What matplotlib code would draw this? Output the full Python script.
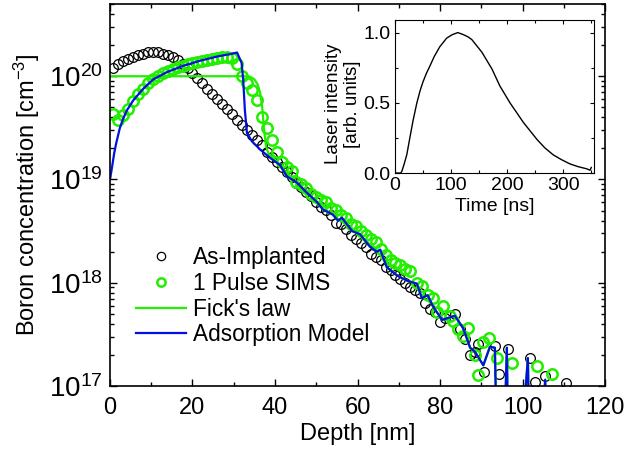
import numpy as np
import matplotlib
matplotlib.use("Agg")
import matplotlib.pyplot as plt
from matplotlib.ticker import MultipleLocator, LogLocator, NullFormatter

plt.rcParams['font.family'] = ['Liberation Sans', 'DejaVu Sans']
plt.rcParams['mathtext.fontset'] = 'custom'
plt.rcParams['mathtext.rm'] = 'Liberation Sans'
plt.rcParams['mathtext.it'] = 'Liberation Sans:italic'

# As-Implanted SIMS (depth nm, log10 conc)
impl_x = [0.8, 2.0, 3.2, 4.4, 5.6, 6.8, 8.0, 9.2, 10.4, 11.6, 12.8, 14.0, 15.2, 16.4,
          17.6, 18.8, 20.0, 21.2, 22.4, 23.6, 24.8, 26.0, 27.2, 28.4, 29.6, 30.8, 32.0,
          33.2, 34.4, 35.6, 36.8, 38.0, 39.2, 40.4, 41.6, 42.8, 44.0, 45.2, 46.4, 47.6,
          48.8, 50.0, 51.2, 52.4, 53.6, 54.8, 56.0, 57.2, 58.4, 59.6, 60.8, 62.0, 63.2,
          64.4, 65.6, 66.8, 68.0, 69.2, 70.4, 71.6, 72.8, 74.0, 75.2, 76.4, 77.6, 78.8,
          80.0, 81.2, 82.4, 83.6, 84.8, 86.0, 87.2, 88.4, 89.2, 90.6, 93.3, 94.2, 96.6,
          101.8, 103.0, 105.5, 110.5]
impl_y = [20.08, 20.12, 20.15, 20.17, 20.19, 20.21, 20.22, 20.23, 20.23, 20.23, 20.22,
          20.21, 20.19, 20.16, 20.12, 20.08, 20.03, 19.98, 19.93, 19.88, 19.83, 19.78,
          19.73, 19.68, 19.63, 19.58, 19.53, 19.48, 19.43, 19.38, 19.33, 19.27, 19.22,
          19.17, 19.12, 19.07, 19.02, 18.97, 18.93, 18.88, 18.84, 18.78, 18.73, 18.70,
          18.66, 18.58, 18.57, 18.52, 18.46, 18.42, 18.38, 18.35, 18.28, 18.25, 18.22,
          18.15, 18.12, 18.07, 18.04, 18.00, 17.96, 17.93, 17.90, 17.80, 17.75, 17.72,
          17.62, 17.66, 17.68, 17.70, 17.55, 17.45, 17.30, 17.33, 17.41, 17.14, 17.39,
          17.12, 17.36, 17.27, 17.04, 17.10, 17.03]

# 1 Pulse SIMS
sims_x = [0.7, 2.0, 3.2, 4.4, 5.6, 6.8, 8.0, 9.2, 10.4, 11.6, 12.8, 14.0, 15.2, 16.4,
          17.6, 18.8, 20.0, 21.2, 22.4, 23.6, 24.8, 26.0, 27.2, 28.4, 29.6, 30.8, 32.0,
          33.2, 34.4, 35.6, 36.8, 38.0, 39.2, 40.4, 41.6, 42.8, 44.0, 45.2, 46.4, 47.6,
          48.8, 50.0, 51.2, 52.4, 53.6, 54.8, 56.0, 57.2, 58.4, 59.6, 60.8, 62.0, 63.2,
          64.4, 65.6, 66.8, 68.0, 69.2, 70.4, 71.6, 72.8, 74.4, 75.6, 77.0, 78.4, 79.2,
          80.8, 82.4, 83.2, 84.4, 85.6, 86.8, 88.5, 89.3, 90.5, 91.9, 93.8, 97.4, 103.5,
          107.2]
sims_y = [19.63, 19.58, 19.62, 19.68, 19.76, 19.83, 19.88, 19.93, 19.97, 20.00, 20.03,
          20.05, 20.07, 20.09, 20.10, 20.12, 20.13, 20.14, 20.15, 20.16, 20.17, 20.18,
          20.19, 20.19, 20.18, 20.12, 20.00, 19.93, 19.87, 19.77, 19.61, 19.50, 19.38,
          19.27, 19.17, 19.12, 19.08, 18.98, 18.96, 18.92, 18.86, 18.83, 18.80, 18.78,
          18.72, 18.70, 18.66, 18.63, 18.57, 18.55, 18.50, 18.46, 18.42, 18.39, 18.33,
          18.27, 18.22, 18.19, 18.17, 18.13, 18.11, 18.00, 17.97, 17.88, 17.85, 17.72,
          17.77, 17.68, 17.63, 17.55, 17.48, 17.56, 17.30, 17.11, 17.43, 17.46, 17.27,
          17.22, 17.19, 17.12]

# Adsorption model
ads_x = [0.0, 0.5, 1.0, 1.5, 2.4, 3.2, 4.1, 5.7, 8.1, 10.5, 13.8, 17.7, 21.8, 25.9,
         29.8, 30.8, 31.9, 32.3, 32.7, 33.2, 34.4, 36.4, 38.8, 41.2, 42.9, 45.3, 47.5,
         50.2, 51.6, 54.0, 55.3, 56.2, 58.7, 60.6, 63.0, 64.7, 65.5, 67.1, 69.6, 72.0,
         74.4, 75.6, 77.0, 78.3, 80.5, 83.6, 85.6, 87.3, 88.5, 90.5, 92.1, 93.3, 94.5,
         96.2, 97.0, 101.3, 102.3, 105.5, 106.5]
ads_y = [19.00, 19.12, 19.25, 19.35, 19.50, 19.59, 19.67, 19.77, 19.88, 19.97, 20.04,
         20.10, 20.15, 20.19, 20.22, 20.23, 20.13, 19.96, 19.67, 19.45, 19.37, 19.29,
         19.21, 19.14, 19.03, 18.97, 18.88, 18.78, 18.71, 18.66, 18.60, 18.63, 18.50,
         18.47, 18.35, 18.30, 18.32, 18.15, 18.07, 18.02, 17.99, 17.85, 17.88, 17.77,
         17.64, 17.68, 17.56, 17.37, 17.33, 17.20, 17.38, 17.37, 15.0, 17.37, 15.0,
         17.27, 15.0, 17.06, 15.0]

# Fick's law
fick_x = [0.0, 33.0, 34.0, 35.0, 35.8, 36.4, 36.9, 37.3, 37.8, 38.4, 39.5, 41.2, 42.9,
          45.3, 47.5, 50.2, 51.6, 54.0, 55.3, 56.2, 58.7, 60.6, 63.0, 64.7, 65.5, 67.1,
          69.6, 72.0, 74.4, 75.6, 77.0, 78.3, 80.5, 83.6, 85.6, 87.3, 88.5, 90.5, 92.1,
          93.3, 94.5, 96.2, 97.0, 101.3, 102.3, 105.5, 106.5]
fick_y = [20.0, 20.0, 19.995, 19.97, 19.92, 19.84, 19.70, 19.50, 19.33, 19.25, 19.21,
          19.14, 19.03, 18.97, 18.88, 18.78, 18.71, 18.66, 18.60, 18.63, 18.50, 18.47,
          18.35, 18.30, 18.32, 18.15, 18.07, 18.02, 17.99, 17.85, 17.88, 17.77, 17.64,
          17.68, 17.56, 17.37, 17.33, 17.20, 17.38, 17.37, 15.0, 17.37, 15.0, 17.27,
          15.0, 17.06, 15.0]

# laser pulse (inset)
t_ns = [0, 10, 12, 16, 21, 26, 32, 39, 45, 50, 56, 62, 70, 80, 92, 102, 112, 122, 130,
        137, 145, 155, 164, 173, 180, 187, 196, 205, 217, 229, 241, 253, 267, 282, 297,
        312, 327, 342, 348, 350]
laser = [0.0, 0.0, 0.01, 0.06, 0.13, 0.24, 0.37, 0.50, 0.59, 0.65, 0.71, 0.76, 0.83,
         0.90, 0.96, 0.985, 1.0, 0.985, 0.97, 0.95, 0.91, 0.86, 0.80, 0.74, 0.68, 0.62,
         0.56, 0.50, 0.43, 0.36, 0.30, 0.24, 0.18, 0.13, 0.095, 0.065, 0.045, 0.03,
         0.02, 0.04]

fig = plt.figure(figsize=(6.26, 4.53), dpi=100)
ax = fig.add_axes([0.1757, 0.148, 0.7908, 0.843])

ax.plot(impl_x, 10**np.array(impl_y), 'o', mfc='none', mec='black', ms=7, mew=0.9,
        label='As-Implanted')
ax.plot(sims_x, 10**np.array(sims_y), 'o', mfc='none', mec='#22ee00', ms=7.5, mew=1.8,
        label='1 Pulse SIMS')
ax.plot(fick_x, 10**np.array(fick_y), '-', color='#22ee00', lw=1.6, label="Fick's law")
ax.plot(ads_x, 10**np.array(ads_y), '-', color='#0010dd', lw=1.6, label='Adsorption Model')

ax.set_yscale('log')
ax.set_xlim(0, 120)
ax.set_ylim(1e17, 5e20)
ax.xaxis.set_major_locator(MultipleLocator(20))
ax.xaxis.set_minor_locator(MultipleLocator(10))
ax.yaxis.set_major_locator(LogLocator(base=10, numticks=10))
ax.yaxis.set_minor_locator(LogLocator(base=10, subs=np.arange(2, 10), numticks=20))
ax.yaxis.set_minor_formatter(NullFormatter())
ax.tick_params(which='both', direction='in', top=True, right=True, width=1)
ax.tick_params(axis='x', labelsize=17, pad=8)
ax.tick_params(axis='y', labelsize=20, pad=5)
ax.tick_params(which='major', length=5)
ax.tick_params(which='minor', length=3)
for s in ax.spines.values():
    s.set_linewidth(1.2)
ax.set_xlabel('Depth [nm]', fontsize=17, labelpad=3)
ax.set_ylabel('Boron concentration [cm$^{-3}$]', fontsize=17, labelpad=5)

leg = ax.legend(loc='upper left', bbox_to_anchor=(0.035, 0.39), frameon=False, fontsize=16.3,
                handlelength=2.2, handletextpad=0.3, labelspacing=0.12, borderaxespad=0)
leg.legend_handles[0].set_markersize(6)
leg.legend_handles[1].set_markersize(6)

ins = fig.add_axes([0.631, 0.618, 0.318, 0.338])
ins.plot(t_ns, laser, color='black', lw=1)
ins.set_xlim(0, 355)
ins.set_ylim(0, 1.09)
ins.xaxis.set_major_locator(MultipleLocator(100))
ins.xaxis.set_minor_locator(MultipleLocator(50))
ins.yaxis.set_major_locator(MultipleLocator(0.5))
ins.yaxis.set_minor_locator(MultipleLocator(0.25))
ins.tick_params(which='both', direction='in', top=True, right=True, labelsize=14, width=0.8)
ins.tick_params(which='major', length=3)
ins.tick_params(axis='x', pad=3)
ins.tick_params(axis='y', pad=3)
ins.tick_params(which='minor', length=2)
ins.set_xlabel('Time [ns]', fontsize=14, labelpad=3)
ins.set_ylabel('Laser intensity\n[arb. units]', fontsize=13.5, labelpad=3)
ins.yaxis.set_label_coords(-0.17, 0.45)

fig.savefig('out.png', dpi=100)
